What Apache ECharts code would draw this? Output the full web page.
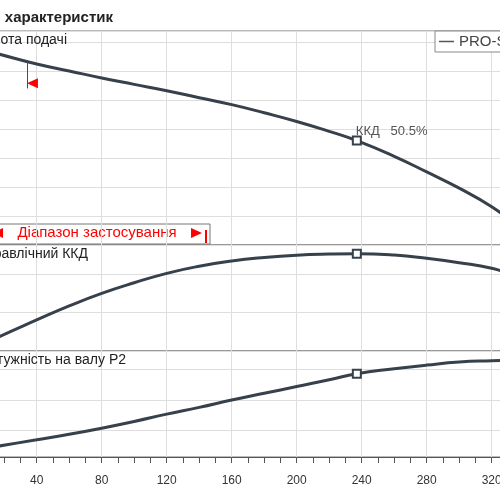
<!DOCTYPE html>
<html>
<head>
<meta charset="utf-8">
<script src="https://cdn.jsdelivr.net/npm/echarts@6/dist/echarts.min.js"></script>
<style>
  html, body { margin: 0; padding: 0; background: #fff; }
  #chart { width: 500px; height: 500px; }
</style>
</head>
<body>
<div id="chart"></div>
<script>
// flow, l/min
const flowQ = [0, 17, 40, 60, 80, 100, 120, 140, 160, 180, 200, 220, 237, 260, 280, 300, 320, 335]
// head, m
const headH = [34.2, 32.9, 31.2, 30.0, 28.8, 27.7, 26.6, 25.4, 24.2, 22.8, 21.3, 19.6, 18.0, 15.3, 12.6, 9.8, 6.6, 3.4]
// hydraulic efficiency, %
const efficiency = [0, 7.4, 16.1, 23.4, 29.9, 35.4, 40.3, 44.0, 46.7, 48.5, 49.7, 50.3, 50.5, 49.8, 48.1, 45.8, 42.9, 39.0]
// shaft power P2, kW
const powerP2 = [0.17, 0.25, 0.35, 0.44, 0.54, 0.65, 0.77, 0.88, 1.0, 1.11, 1.22, 1.33, 1.43, 1.51, 1.57, 1.62, 1.64, 1.65]

const bestIndex = 12
const minFlowQ = 34
const minFlowHead = [31.6, 27.0]
const minFlowArrowHead = 27.9

const pumpName = 'PRO-S'
const FONT = 'Liberation Sans, Arial, sans-serif'
const CURVE = '#37414b'
const GRIDLINE = '#dedede'

const pairs = (ys) => flowQ.map((q, i) => [q, ys[i]])

const bestMark = (ys) => ({
  symbol: 'rect',
  symbolSize: 8,
  silent: true,
  itemStyle: { color: '#fff', borderColor: CURVE, borderWidth: 2 },
  label: { show: false },
  data: [{ coord: [flowQ[bestIndex], ys[bestIndex]] }]
})

const chart = echarts.init(document.getElementById('chart'))

const xBase = (i) => ({
  type: 'value',
  gridIndex: i,
  min: 0,
  max: 340,
  interval: 40,
  axisLine: { show: false },
  axisTick: { show: false },
  axisLabel: { show: false },
  splitLine: { show: true, lineStyle: { color: GRIDLINE, width: 1 } }
})

const yBase = (i) => ({
  type: 'value',
  gridIndex: i,
  axisLine: { show: false },
  axisTick: { show: false },
  axisLabel: { show: false },
  splitLine: { show: true, lineStyle: { color: GRIDLINE, width: 1 } }
})

const gridBase = {
  left: -28.3,
  width: 552.5,
  containLabel: false,
  outerBoundsMode: 'none',
  show: true,
  borderColor: '#777',
  borderWidth: 1,
  backgroundColor: 'transparent'
}

const lineSeries = (i, ys) => ({
  name: pumpName,
  type: 'line',
  xAxisIndex: i,
  yAxisIndex: i,
  smooth: 0.5,
  symbol: 'none',
  lineStyle: { color: CURVE, width: 3 },
  itemStyle: { color: CURVE },
  data: pairs(ys)
})

chart.setOption({
  animation: false,
  textStyle: { fontFamily: FONT },
  legend: {
    data: [pumpName],
    left: 435,
    top: 31,
    padding: [3, 60, 3, 4],
    backgroundColor: '#fff',
    borderColor: '#888',
    borderWidth: 1,
    borderRadius: 0,
    icon: 'rect',
    itemWidth: 15,
    itemHeight: 1.5,
    itemStyle: { color: '#555' },
    textStyle: { color: '#444', fontSize: 15, fontFamily: FONT }
  },
  grid: [
    Object.assign({ top: 31, height: 214 }, gridBase),
    Object.assign({ top: 245, height: 106 }, gridBase),
    Object.assign({ top: 351, height: 106 }, gridBase)
  ],
  xAxis: [
    xBase(0),
    xBase(1),
    Object.assign(xBase(2), {
      axisLine: { show: true, lineStyle: { color: '#555', width: 1 } },
      axisTick: { show: true, length: 6, lineStyle: { color: '#555' } },
      minorTick: { show: true, splitNumber: 4, length: 6, lineStyle: { color: '#555' } },
      axisLabel: { show: true, color: '#333', fontSize: 12, margin: 18, fontFamily: FONT }
    })
  ],
  yAxis: [
    Object.assign(yBase(0), { min: 0, max: 36.9, interval: 5 }),
    Object.assign(yBase(1), { min: 0, max: 55, interval: 20 }),
    Object.assign(yBase(2), { min: 0.07, max: 1.8, splitNumber: 3 })
  ],
  series: [
    Object.assign(lineSeries(0, headH), {
      markPoint: {
        silent: true,
        data: [
          {
            coord: [flowQ[bestIndex], headH[bestIndex]],
            symbol: 'rect',
            symbolSize: 8,
            itemStyle: { color: '#fff', borderColor: CURVE, borderWidth: 2 },
            label: {
              show: true,
              position: [4, -11],
              formatter: 'ККД   ' + efficiency[bestIndex] + '%',
              color: '#555',
              fontSize: 13,
              fontFamily: FONT
            }
          },
          {
            coord: [minFlowQ, minFlowArrowHead],
            symbol: 'path://M0,5L10,0L10,10Z',
            symbolSize: [11, 10],
            symbolOffset: [5.5, 0],
            itemStyle: { color: '#ff0000', borderWidth: 0 },
            label: { show: false }
          }
        ]
      },
      markLine: {
        silent: true,
        symbol: 'none',
        label: { show: false },
        lineStyle: { color: '#ff0000', width: 1, type: 'solid' },
        data: [[{ coord: [minFlowQ, minFlowHead[0]] }, { coord: [minFlowQ, minFlowHead[1]] }]]
      }
    }),
    Object.assign(lineSeries(1, efficiency), { markPoint: bestMark(efficiency) }),
    Object.assign(lineSeries(2, powerP2), { markPoint: bestMark(powerP2) })
  ],
  graphic: [
    {
      type: 'text', x: 113, y: 18, z: 10,
      style: { text: 'Поле характеристик', align: 'right', verticalAlign: 'middle', font: 'bold 15px ' + FONT, fill: '#222' }
    },
    {
      type: 'text', x: 67, y: 40, z: 10,
      style: { text: 'Висота подачі', align: 'right', verticalAlign: 'middle', font: '14px ' + FONT, fill: '#222' }
    },
    {
      type: 'text', x: 88, y: 254, z: 10,
      style: { text: 'Гідравлічний ККД', align: 'right', verticalAlign: 'middle', font: '14px ' + FONT, fill: '#222' }
    },
    {
      type: 'text', x: 126, y: 360, z: 10,
      style: { text: 'Потужність на валу P2', align: 'right', verticalAlign: 'middle', font: '14px ' + FONT, fill: '#222' }
    },
    {
      type: 'group', z: 10,
      children: [
        { type: 'rect', shape: { x: -40, y: 224, width: 250, height: 20 }, style: { fill: '#fff', stroke: '#777', lineWidth: 1 } },
        { type: 'polygon', shape: { points: [[-7, 233], [3, 228], [3, 238]] }, style: { fill: '#ff0000' } },
        { type: 'text', x: 97, y: 233, style: { text: 'Діапазон застосування', align: 'center', verticalAlign: 'middle', font: '15px ' + FONT, fill: '#ff0000' } },
        { type: 'polygon', shape: { points: [[191, 228], [191, 238], [202, 233]] }, style: { fill: '#ff0000' } },
        { type: 'rect', shape: { x: 205, y: 230, width: 2, height: 13 }, style: { fill: '#ff0000' } }
      ]
    }
  ]
})
</script>
</body>
</html>
